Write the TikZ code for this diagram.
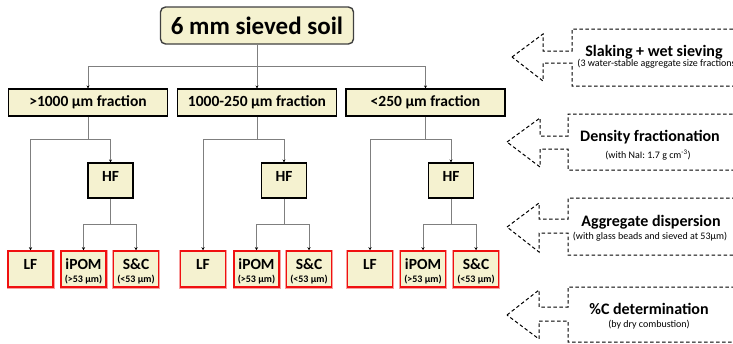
\documentclass[tikz,border=0pt]{standalone}
\usepackage{fontspec}
\setmainfont{Carlito}
\usetikzlibrary{arrows.meta}
\definecolor{boxfill}{HTML}{F5F2D0}
\definecolor{conngray}{HTML}{7F7F7F}
\definecolor{redline}{HTML}{F01010}
\definecolor{redhalo}{HTML}{F8A0A0}
\tikzset{
  topbox/.style={draw=black!75, line width=1.4pt, fill=boxfill, rounded corners=5pt,
    minimum width=193pt, minimum height=37pt, inner sep=0pt,
    font=\fontsize{25}{27}\selectfont\bfseries},
  fracbox/.style={draw=black, line width=1.1pt, fill=boxfill,
    minimum width=159pt, minimum height=27pt, inner sep=0pt,
    font=\fontsize{15.5}{17}\selectfont\bfseries},
  hfbox/.style={draw=black, line width=1.1pt, fill=boxfill,
    minimum width=45pt, minimum height=35pt, inner sep=0pt,
    font=\fontsize{15.5}{17}\selectfont\bfseries},
  endbox/.style={draw=redline, line width=1.5pt, fill=boxfill,
    minimum width=45pt, minimum height=36pt, inner sep=0pt,
    align=center, font=\fontsize{15.5}{17}\selectfont\bfseries,
    preaction={draw=redhalo, line width=3pt}},
  conn/.style={draw=conngray, line width=0.6pt},
  carrow/.style={conn, -{Stealth[length=3pt,width=3pt,color=black]}},
  dasharrow/.style={draw=black, line width=1pt, dash pattern=on 3.5pt off 2.5pt},
  steptitle/.style={font=\fontsize{16}{18}\selectfont\bfseries, inner sep=0pt},
  stepsub/.style={font=\fontsize{10}{11}\selectfont, inner sep=0pt},
}
\newcommand{\fraclabel}[2]{\rule{0pt}{16pt}#1\\[-4.5pt]{\fontsize{10}{11}\selectfont\bfseries\rule[-2.5pt]{0pt}{7pt}#2}}
\newcommand{\hflabel}{\rule[-7.6pt]{0pt}{0pt}HF}
\begin{document}
\begin{tikzpicture}[x=1pt,y=-1pt]
\useasboundingbox (0,0) rectangle (733,343);
\clip (0,0) rectangle (733,343);

% top node
\node[topbox] (top) at (257,25.5) {6 mm sieved soil};

% fraction boxes
\node[fracbox] (f1) at (88,102.5) {>1000 µm fraction};
\node[fracbox] (f2) at (257,102.5) {1000-250 µm fraction};
\node[fracbox] (f3) at (425.5,102.5) {<250 µm fraction};

% HF boxes
\node[hfbox] (h1) at (110.5,180.5) {\hflabel};
\node[hfbox] (h2) at (284,180.5) {\hflabel};
\node[hfbox] (h3) at (451,180.5) {\hflabel};

% end boxes
\node[endbox] (lf1) at (30.5,269) {\fraclabel{LF}{}};
\node[endbox] (ip1) at (83.5,269) {\fraclabel{iPOM}{(>53 µm)}};
\node[endbox] (sc1) at (136,269) {\fraclabel{S\&C}{(<53 µm)}};
\node[endbox] (lf2) at (203,269) {\fraclabel{LF}{}};
\node[endbox] (ip2) at (256.5,269) {\fraclabel{iPOM}{(>53 µm)}};
\node[endbox] (sc2) at (309,269) {\fraclabel{S\&C}{(<53 µm)}};
\node[endbox] (lf3) at (370,269) {\fraclabel{LF}{}};
\node[endbox] (ip3) at (423,269) {\fraclabel{iPOM}{(>53 µm)}};
\node[endbox] (sc3) at (476,269) {\fraclabel{S\&C}{(<53 µm)}};

% connectors
\coordinate (j0) at (257,66);
\draw[conn] (top.south) -- (j0);
\draw[carrow] (j0) -| (f1.north);
\draw[carrow] (j0) -- (f2.north);
\draw[carrow] (j0) -| (f3.north);

\coordinate (a1) at (88,139);
\coordinate (a2) at (257,139);
\coordinate (a3) at (425.5,139);
\draw[conn] (f1.south) -- (a1);
\draw[conn] (f2.south) -- (a2);
\draw[conn] (f3.south) -- (a3);
\draw[carrow] (a1) -| (lf1.north);
\draw[carrow] (a1) -| (h1.north);
\draw[carrow] (a2) -| (lf2.north);
\draw[carrow] (a2) -| (h2.north);
\draw[carrow] (a3) -| (lf3.north);
\draw[carrow] (a3) -| (h3.north);

\coordinate (b1) at (110.5,224);
\coordinate (b2) at (284,224);
\coordinate (b3) at (451,224);
\draw[conn] (h1.south) -- (b1);
\draw[conn] (h2.south) -- (b2);
\draw[conn] (h3.south) -- (b3);
\draw[carrow] (b1) -| (ip1.north);
\draw[carrow] (b1) -| (sc1.north);
\draw[carrow] (b2) -| (ip2.north);
\draw[carrow] (b2) -| (sc2.north);
\draw[carrow] (b3) -| (ip3.north);
\draw[carrow] (b3) -| (sc3.north);

% dashed step arrows (right ends run past the picture edge)
\draw[dasharrow] (512,57) -- (543,34) -- (543,51) -- (572,51) -- (572,29) -- (800,29)
  -- (800,86) -- (572,86) -- (572,63) -- (543,63) -- (543,81) -- cycle;
\draw[dasharrow] (507,142) -- (540,118) -- (540,136) -- (568,136) -- (568,114) -- (800,114)
  -- (800,170) -- (568,170) -- (568,149) -- (540,149) -- (540,167) -- cycle;
\draw[dasharrow] (507,227) -- (539,203) -- (539,219) -- (568,219) -- (568,198) -- (800,198)
  -- (800,255) -- (568,255) -- (568,233) -- (539,233) -- (539,252) -- cycle;
\draw[dasharrow] (507,315) -- (539,290) -- (539,307) -- (568,307) -- (568,287) -- (800,287)
  -- (800,342) -- (568,342) -- (568,321) -- (539,321) -- (539,339) -- cycle;

\node[steptitle] (s1) at (654,52) {Slaking + wet sieving};
\node[stepsub] (s1b) at (658,64) {(3 water-stable aggregate size fractions)};
\node[steptitle] (s2) at (650,137) {Density fractionation};
\node[stepsub] (s2b) at (648,155) {(with NaI: 1.7 g cm\textsuperscript{-3})};
\node[steptitle] (s3) at (651,222) {Aggregate dispersion};
\node[stepsub] (s3b) at (650,237) {(with glass beads and sieved at 53µm)};
\node[steptitle] (s4) at (649,309) {\%C determination};
\node[stepsub] (s4b) at (649,325) {(by dry combustion)};
\end{tikzpicture}
\end{document}
